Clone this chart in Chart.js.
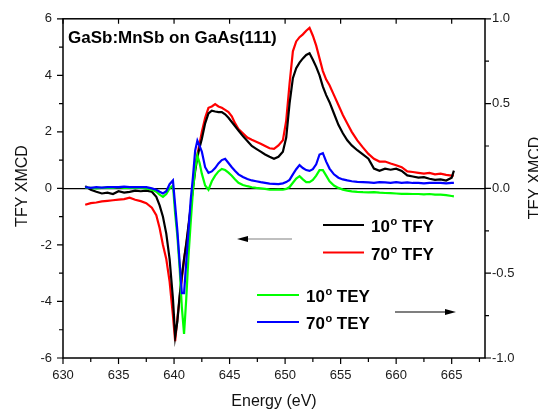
<!DOCTYPE html>
<html>
<head>
<meta charset="utf-8">
<script src="https://cdn.jsdelivr.net/npm/chart.js@4"></script>
<style>
  html, body { margin: 0; padding: 0; background: #fff; }
  canvas { display: block; }
</style>
</head>
<body>
<canvas id="xmcdChart" width="538" height="411"></canvas>
<script>
// Energy grid (eV) shared by all four spectra
const energy = [
    632, 632.5, 633, 633.5, 634, 634.5, 635, 635.5, 636, 636.5,
    637, 637.5, 638, 638.4, 638.7, 639.0, 639.3, 639.6, 639.9, 640.1,
    640.3, 640.5, 640.7, 640.9, 641.1, 641.3, 641.5, 641.7, 641.9, 642.1,
    642.3, 642.5, 642.8, 643.1, 643.4, 643.7, 644.0, 644.3, 644.6, 644.9,
    645.2, 645.5, 645.8, 646.2, 646.6, 647.0, 647.4, 647.8, 648.2, 648.6,
    649.0, 649.4, 649.8, 650.1, 650.4, 650.7, 651.0, 651.3, 651.6, 651.9,
    652.2, 652.5, 652.8, 653.1, 653.4, 653.7, 654.0, 654.4, 654.8, 655.2,
    655.6, 656.0, 656.5, 657.0, 657.5, 658.0, 658.5, 659.0, 659.5, 660.0,
    660.5, 661.0, 661.5, 662.0, 662.5, 663.0, 663.5, 664.0, 664.5, 665.0, 665.2
];

// TFY XMCD (left axis)
const tfy10 = [
    0.08, -0.05, -0.12, -0.18, -0.15, -0.2, -0.1, -0.15, -0.12, -0.08,
    -0.1, -0.08, -0.12, -0.3, -0.6, -1.0, -1.6, -2.5, -3.9, -5.24,
    -4.7, -3.8, -3.1, -2.5, -1.95, -1.3, -0.65, 0.0, 0.6, 1.1,
    1.45, 1.75, 2.3, 2.65, 2.75, 2.72, 2.7, 2.7, 2.62, 2.5,
    2.35, 2.2, 2.05, 1.85, 1.68, 1.5, 1.4, 1.3, 1.2, 1.12,
    1.05, 1.12, 1.3, 1.8, 3.0, 3.9, 4.25, 4.45, 4.6, 4.72,
    4.78, 4.55, 4.3, 4.0, 3.6, 3.3, 3.05, 2.65, 2.25, 1.95,
    1.7, 1.52, 1.35, 1.2, 1.05, 0.7, 0.62, 0.7, 0.66, 0.7,
    0.62, 0.46, 0.42, 0.38, 0.4, 0.34, 0.3, 0.32, 0.28, 0.38, 0.63
];
const tfy70 = [
    -0.58, -0.52, -0.5, -0.46, -0.44, -0.42, -0.4, -0.38, -0.33, -0.4,
    -0.45, -0.52, -0.68, -0.95, -1.4, -2.0, -2.5, -3.3, -4.5, -5.4,
    -4.6, -3.9, -3.2, -2.5, -2.0, -1.4, -0.7, 0.05, 0.85, 1.2,
    1.58, 2.0, 2.5, 2.85, 2.9, 2.98, 2.9, 2.85, 2.78, 2.7,
    2.55, 2.3, 2.1, 1.95, 1.8, 1.72, 1.65, 1.58, 1.5, 1.42,
    1.4, 1.52, 1.7, 2.4, 3.7, 4.85, 5.2, 5.35, 5.45, 5.58,
    5.68, 5.4, 5.05, 4.6, 4.15, 3.85, 3.65, 3.3, 2.95, 2.6,
    2.3, 2.0, 1.7, 1.45, 1.22, 1.05, 0.95, 0.95, 0.88, 0.82,
    0.75, 0.6, 0.58, 0.55, 0.52, 0.55, 0.5, 0.52, 0.48, 0.45, 0.46
];

// TEY XMCD (right axis)
const tey10 = [
    0.005, 0.003, 0, 0.003, 0.005, 0.003, 0.007, 0.003, 0.005, 0.003,
    0.003, 0, -0.008, -0.02, -0.037, -0.05, -0.033, 0, 0.017, -0.15,
    -0.283, -0.467, -0.7, -0.858, -0.65, -0.4, -0.2, -0.017, 0.117, 0.193,
    0.15, 0.087, 0.017, -0.008, 0.042, 0.075, 0.1, 0.115, 0.108, 0.093,
    0.075, 0.053, 0.033, 0.02, 0.013, 0.007, 0.003, 0, -0.003, -0.007,
    -0.008, -0.007, -0.008, -0.003, 0.008, 0.033, 0.058, 0.072, 0.053, 0.037,
    0.037, 0.05, 0.075, 0.108, 0.108, 0.075, 0.042, 0.017, 0.003, -0.007,
    -0.013, -0.017, -0.02, -0.022, -0.023, -0.022, -0.025, -0.027, -0.028, -0.03,
    -0.032, -0.032, -0.033, -0.033, -0.035, -0.033, -0.037, -0.037, -0.04, -0.045, -0.047
];
const tey70 = [
    0.008, 0.003, 0.007, 0.005, 0.008, 0.007, 0.008, 0.01, 0.007, 0.008,
    0.008, 0.007, 0.0, -0.008, -0.02, -0.03, -0.017, 0.025, 0.047, -0.1,
    -0.25, -0.433, -0.617, -0.617, -0.433, -0.25, -0.067, 0.067, 0.223, 0.282,
    0.25, 0.217, 0.125, 0.092, 0.1, 0.12, 0.147, 0.167, 0.175, 0.15,
    0.125, 0.103, 0.083, 0.067, 0.055, 0.047, 0.042, 0.037, 0.033, 0.028,
    0.027, 0.025, 0.03, 0.037, 0.05, 0.083, 0.113, 0.137, 0.12, 0.108,
    0.103, 0.113, 0.142, 0.2, 0.208, 0.158, 0.117, 0.083, 0.063, 0.053,
    0.047, 0.042, 0.038, 0.037, 0.035, 0.033, 0.037, 0.035, 0.033, 0.037,
    0.033, 0.035, 0.032, 0.033, 0.03, 0.033, 0.032, 0.033, 0.03, 0.033, 0.033
];

const seriesLabels = ['10', '70', '10', '70'];
const seriesKinds = ['TFY', 'TFY', 'TEY', 'TEY'];
const seriesColors = ['#000000', '#ff0000', '#00ff00', '#0000ff'];

const FONT = "'Liberation Sans', Arial, sans-serif";

function toPoints(values) {
    return energy.map((e, i) => ({ x: e, y: values[i] }));
}

// White background, frame, Origin-style major/minor ticks and axis titles
const frameTicks = {
    id: 'frameTicks',
    beforeDraw(chart) {
        const c = chart.ctx;
        c.save();
        c.fillStyle = '#fff';
        c.fillRect(0, 0, chart.width, chart.height);
        c.restore();
    },
    afterDraw(chart) {
        const c = chart.ctx;
        const a = chart.chartArea;
        const x = chart.scales.x, y = chart.scales.y, y2 = chart.scales.y2;
        c.save();
        c.strokeStyle = '#000';
        c.lineWidth = 1.5;
        c.strokeRect(a.left, a.top, a.right - a.left, a.bottom - a.top);

        c.lineWidth = 1.2;
        c.beginPath();
        for (let i = 0; i * 2.5 + 630 <= 668; i++) {
            const px = x.getPixelForValue(630 + i * 2.5);
            const major = i % 2 === 0;
            c.moveTo(px, a.bottom);
            c.lineTo(px, a.bottom + (major ? 6 : 4));
            if (major) {
                c.moveTo(px, a.top);
                c.lineTo(px, a.top + 5);
            }
        }
        for (let i = 0; i <= 12; i++) {
            const py = y.getPixelForValue(-6 + i);
            c.moveTo(a.left, py);
            c.lineTo(a.left - (i % 2 === 0 ? 6 : 4), py);
        }
        for (let i = 0; i <= 8; i++) {
            const py = y2.getPixelForValue(-1 + i * 0.25);
            c.moveTo(a.right, py);
            c.lineTo(a.right + (i % 2 === 0 ? 6 : 4), py);
        }
        c.stroke();

        // axis titles
        c.fillStyle = '#111';
        c.font = '16px ' + FONT;
        c.textAlign = 'center';
        c.textBaseline = 'alphabetic';
        c.fillText('Energy (eV)', (a.left + a.right) / 2, 406);

        c.save();
        c.translate(27, 186);
        c.rotate(-Math.PI / 2);
        c.fillText('TFY XMCD', 0, 0);
        c.restore();

        // right title is clipped by the page edge in the original
        c.save();
        c.translate(540, 178);
        c.rotate(-Math.PI / 2);
        c.fillText('TEY XMCD', 0, 0);
        c.restore();

        c.restore();
    }
};

// Inset title, hand-placed legend and direction arrows
const annotations = {
    id: 'annotations',
    afterDatasetsDraw(chart) {
        const c = chart.ctx;
        c.save();
        c.fillStyle = '#000';
        c.font = 'bold 17px ' + FONT;
        c.textAlign = 'left';
        c.textBaseline = 'alphabetic';
        c.fillText('GaSb:MnSb on GaAs(111)', 68, 43);

        const rows = [
            { x1: 323, x2: 364, y: 225 },
            { x1: 323, x2: 364, y: 252.5 },
            { x1: 257, x2: 299, y: 295 },
            { x1: 257, x2: 299, y: 322 }
        ];
        rows.forEach((r, i) => {
            c.strokeStyle = seriesColors[i];
            c.lineWidth = 2.2;
            c.beginPath();
            c.moveTo(r.x1, r.y);
            c.lineTo(r.x2, r.y);
            c.stroke();

            let tx = r.x2 + 7;
            const base = r.y + 7;
            c.fillStyle = '#000';
            c.font = 'bold 17px ' + FONT;
            c.fillText(seriesLabels[i], tx, base);
            tx += c.measureText(seriesLabels[i]).width + 0.5;
            c.font = 'bold 11px ' + FONT;
            c.fillText('o', tx, base - 7);
            tx += c.measureText('o').width;
            c.font = 'bold 17px ' + FONT;
            c.fillText(' ' + seriesKinds[i], tx, base);
        });

        // arrow pointing to left axis (TFY)
        drawArrow(c, 292, 237, 239, '#808080');
        // arrow pointing to right axis (TEY)
        drawArrow(c, 395, 456, 312, '#000');
        c.restore();
    }
};

function drawArrow(c, from, to, yy, lineColor) {
    const dir = Math.sign(to - from);
    c.strokeStyle = lineColor;
    c.lineWidth = 1.2;
    c.beginPath();
    c.moveTo(from, yy);
    c.lineTo(to - dir * 6, yy);
    c.stroke();
    c.fillStyle = '#000';
    c.beginPath();
    c.moveTo(to, yy);
    c.lineTo(to - dir * 11, yy - 3);
    c.lineTo(to - dir * 11, yy + 3);
    c.closePath();
    c.fill();
}

function makeDataset(values, color, axis) {
    return {
        data: toPoints(values),
        borderColor: color,
        backgroundColor: color,
        borderWidth: 2.2,
        pointRadius: 0,
        tension: 0,
        fill: false,
        yAxisID: axis
    };
}

new Chart(document.getElementById('xmcdChart'), {
    type: 'line',
    data: {
        datasets: [
            makeDataset(tey70, seriesColors[3], 'y2'),
            makeDataset(tey10, seriesColors[2], 'y2'),
            makeDataset(tfy10, seriesColors[0], 'y'),
            makeDataset(tfy70, seriesColors[1], 'y')
        ]
    },
    options: {
        responsive: false,
        devicePixelRatio: 1,
        animation: false,
        layout: { padding: { top: 17, left: 0, right: 0, bottom: 0 } },
        plugins: { legend: { display: false }, tooltip: { enabled: false } },
        scales: {
            x: {
                type: 'linear',
                min: 630,
                max: 668,
                border: { display: false },
                grid: { display: false, drawTicks: false },
                ticks: {
                    stepSize: 5,
                    includeBounds: false,
                    padding: 10,
                    color: '#1a1a1a',
                    font: { family: FONT, size: 13 },
                    maxRotation: 0
                },
                afterFit(s) { s.height = 53; }
            },
            y: {
                position: 'left',
                min: -6,
                max: 6,
                border: { display: false },
                grid: {
                    drawTicks: false,
                    lineWidth: 1.3,
                    color: ctx => (ctx.tick && ctx.tick.value === 0 ? '#000' : 'rgba(0,0,0,0)')
                },
                ticks: {
                    stepSize: 2,
                    padding: 11,
                    color: '#1a1a1a',
                    font: { family: FONT, size: 13 }
                },
                afterFit(s) { s.width = 63; }
            },
            y2: {
                position: 'right',
                min: -1,
                max: 1,
                border: { display: false },
                grid: { display: false, drawTicks: false },
                ticks: {
                    stepSize: 0.5,
                    padding: 7,
                    color: '#1a1a1a',
                    font: { family: FONT, size: 13 },
                    callback: v => v.toFixed(1)
                },
                afterFit(s) { s.width = 53; }
            }
        }
    },
    plugins: [frameTicks, annotations]
});
</script>
</body>
</html>
